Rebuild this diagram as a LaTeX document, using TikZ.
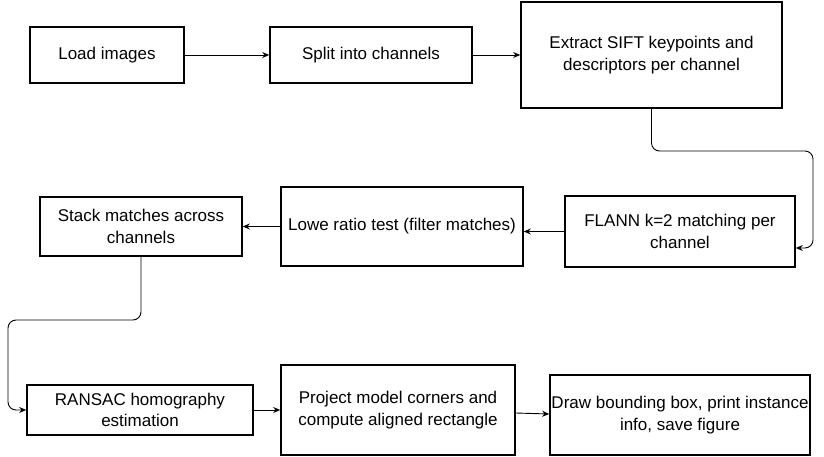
\documentclass[tikz,border=0pt]{standalone}
\usepackage{fontspec}
\setmainfont{Liberation Sans}
\usetikzlibrary{arrows.meta}

\begin{document}
\begin{tikzpicture}[
    x=1pt, y=-1pt, % 1 pt = 1 px, y pointing down
    >={Stealth[length=7pt,width=6pt]},
    box/.style={draw, line width=1.6pt, align=center, inner sep=0pt,
        font=\fontsize{17}{21.5}\selectfont},
    conn/.style={->, line width=0.9pt}
]
\useasboundingbox (0,0) rectangle (824,457);

% ========== top row ==========
\node[box, minimum width=154pt, minimum height=56pt] (load) at (107,55) {Load images};
\node[box, minimum width=202pt, minimum height=56pt] (split) at (371,55) {Split into channels};
\node[box, minimum width=261pt, minimum height=106pt] (extract) at (651.5,55)
    {Extract SIFT keypoints and\\descriptors per channel};

% ========== middle row ==========
\node[box, minimum width=230pt, minimum height=71pt] (flann) at (680,231.5)
    {FLANN k=2 matching per\\channel};
\node[box, minimum width=242pt, minimum height=79pt] (lowe) at (402,226.5)
    {Lowe ratio test (filter matches)};
\node[box, minimum width=202pt, minimum height=59pt] (stack) at (141,226.5)
    {Stack matches across\\channels};

% ========== bottom row ==========
\node[box, minimum width=226pt, minimum height=50pt] (ransac) at (140,410)
    {RANSAC homography\\estimation};
\node[box, minimum width=234pt, minimum height=90pt] (project) at (398,410)
    {Project model corners and\\compute aligned rectangle};
\node[box, minimum width=260pt, minimum height=80pt] (output) at (680,415)
    {Draw bounding box, print instance\\info, save figure};

% bends of the long connectors
\coordinate (bendA) at (813,151);
\coordinate (bendB) at (8,320);

% ========== connectors ==========
\draw[conn] (load) -- (split);
\draw[conn] (split) -- (extract);
\draw[conn, rounded corners=8pt] (extract.south) |- (bendA) |- ([yshift=-16.5pt]flann.east);
\draw[conn] (flann.west) -- (flann.west -| lowe.east);
\draw[conn] (lowe) -- (stack);
\draw[conn, rounded corners=8pt] (stack.south) |- (bendB) |- (ransac.west);
\draw[conn] (ransac) -- (project);
\draw[conn] ([yshift=-3pt]project.east) -- ([yshift=1pt]output.west);

\end{tikzpicture}
\end{document}
